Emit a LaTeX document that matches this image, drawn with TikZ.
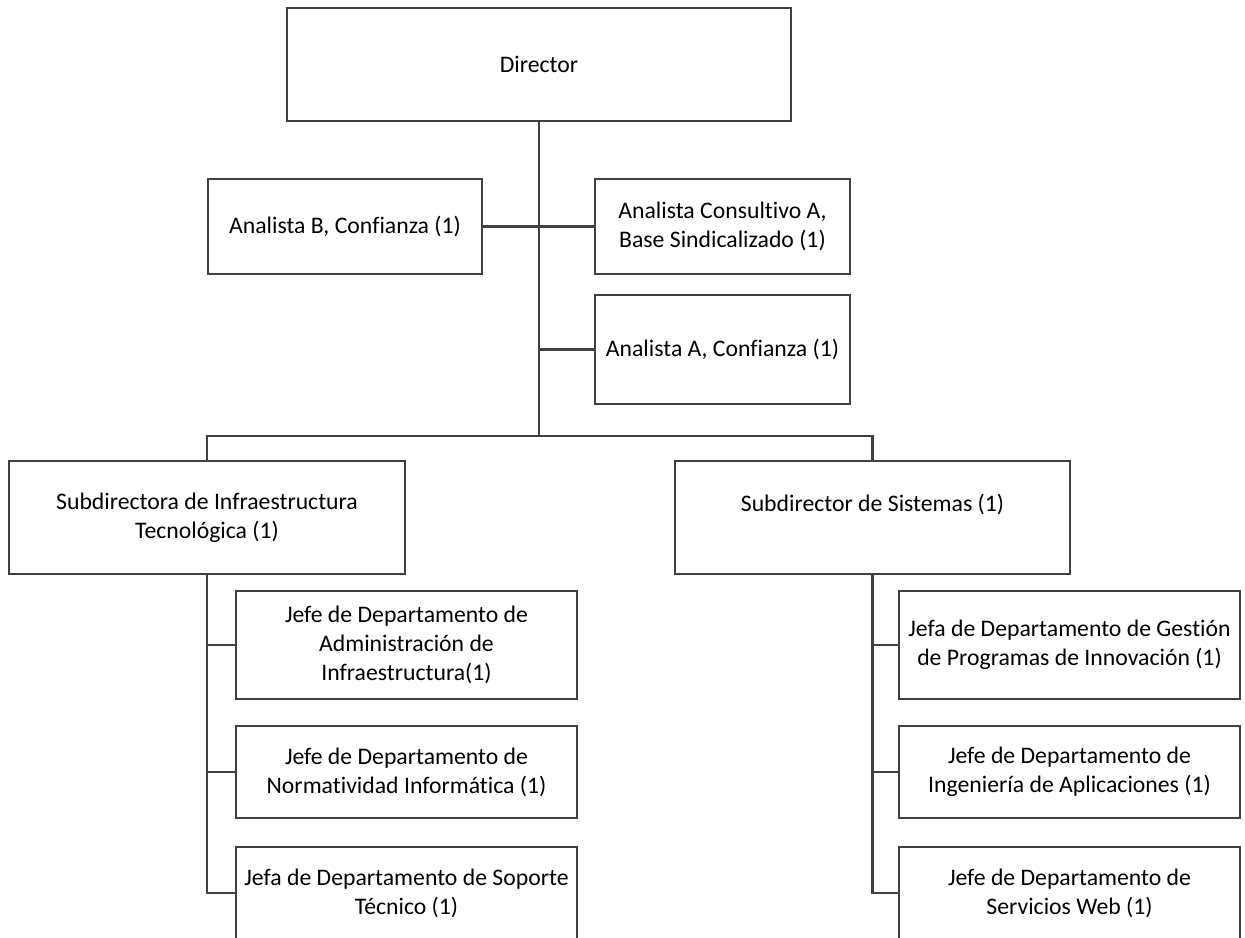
\documentclass[tikz,border=0pt]{standalone}
\usepackage{fontspec}
\setmainfont{Carlito}[Ligatures=NoCommon]
\usepackage{tikz}
\usetikzlibrary{positioning, calc}
\definecolor{linegray}{HTML}{404040}

\begin{document}
\begin{tikzpicture}[
  font=\fontsize{13.5}{16.5}\selectfont,
  box/.style={draw=linegray, line width=1.1pt, fill=white, align=center, inner sep=2pt},
  topbox/.style={box, minimum width=10.08cm, minimum height=2.26cm},
  staff/.style={box, minimum width=5.1cm, minimum height=1.9cm},
  subbox/.style={box, minimum width=7.92cm, minimum height=2.26cm},
  dept/.style={box, minimum width=6.82cm, minimum height=1.84cm},
  conn/.style={draw=linegray, line width=1.2pt}
]
\clip (0,0) rectangle (24.9,-18.76);

% Director
\node[topbox] (dir) at (10.78,-1.29) {Director};

% Staff
\node[staff, minimum width=5.48cm] (anB)  at (6.9,-4.53)  {Analista B, Confianza (1)};
\node[staff] (anCons) at (14.45,-4.53) {Analista Consultivo A,\\Base Sindicalizado (1)};
\node[staff, minimum height=2.18cm] (anA) at (14.45,-6.99) {Analista A, Confianza (1)};

\coordinate (bus) at (10.78,-8.72);
\draw[conn] (dir.south) -- (bus);
\draw[conn] (anB.east) -- (anCons.west);
\draw[conn] (anA.west) -- (dir.south |- anA.west);

% Subdirecciones
\node[subbox] (subI) at (4.14,-10.35) {Subdirectora de Infraestructura\\Tecnológica (1)};
\node[subbox, minimum width=7.9cm] (subS) at (17.45,-10.35) {Subdirector de Sistemas (1)\\\mbox{}};
\draw[conn] (bus) -| (subI.north);
\draw[conn] (bus) -| (subS.north);

% Infraestructura departments
\node[dept, minimum height=2.16cm] (jAdm) at (8.13,-12.9) {Jefe de Departamento de\\Administración de\\Infraestructura(1)};
\node[dept] (jNorm) at (8.13,-15.44) {Jefe de Departamento de\\Normatividad Informática (1)};
\node[dept] (jSop)  at (8.13,-17.86) {Jefa de Departamento de Soporte\\Técnico (1)};
\draw[conn] (subI.south) |- (jAdm.west);
\draw[conn] (subI.south) |- (jNorm.west);
\draw[conn] (subI.south) |- (jSop.west);

% Sistemas departments
\node[dept, minimum height=2.16cm] (jGes) at (21.39,-12.9) {Jefa de Departamento de Gestión\\de Programas de Innovación (1)};
\node[dept] (jIng) at (21.39,-15.44) {Jefe de Departamento de\\Ingeniería de Aplicaciones (1)};
\node[dept] (jWeb) at (21.39,-17.86) {Jefe de Departamento de\\Servicios Web (1)};
\draw[conn] (subS.south) |- (jGes.west);
\draw[conn] (subS.south) |- (jIng.west);
\draw[conn] (subS.south) |- (jWeb.west);

\end{tikzpicture}
\end{document}
